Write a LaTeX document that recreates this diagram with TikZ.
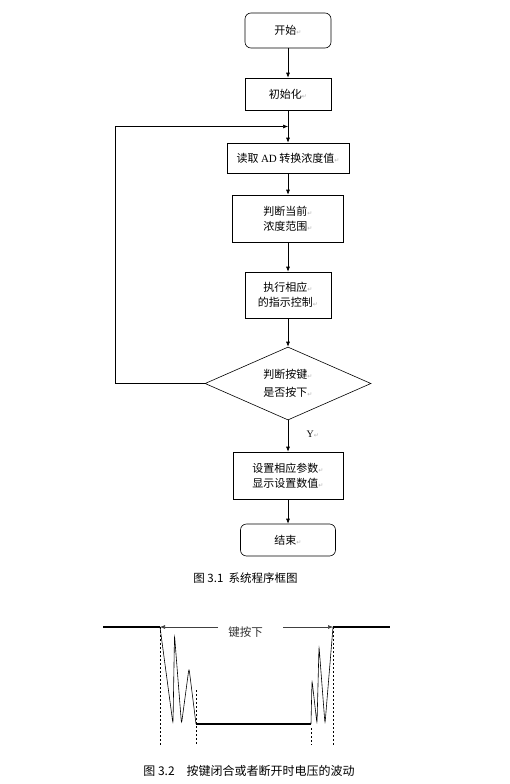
\documentclass[tikz,border=0pt]{standalone}
\usepackage{fontspec}
\setmainfont{Liberation Serif}
\newfontfamily\cjk{Noto Sans CJK SC}
\newfontfamily\markfont{DejaVu Sans}
\usetikzlibrary{arrows.meta,shapes.geometric,calc}
\newcommand{\ret}{{\markfont\fontsize{6}{6}\selectfont\textcolor{gray!60}{↵}}}

\begin{document}
\begin{tikzpicture}[x=1pt,y=-1pt,
  proc/.style={draw,line width=0.6pt,align=center,inner sep=0pt,
    font=\cjk\fontsize{11}{15}\selectfont},
  term/.style={proc,rounded corners=6pt},
  decide/.style={proc,diamond,shape aspect=2.27},
  flow/.style={-{Latex[length=5pt,width=4pt]},line width=0.6pt},
  level/.style={line width=2.4pt},
  bounce/.style={line width=0.6pt,rounded corners=3.5pt},
  guide/.style={line width=0.8pt,dash pattern=on 2pt off 2pt}]
\useasboundingbox[fill=white] (0,0) rectangle (510,784);

% flow chart
\node[term,minimum width=86pt,minimum height=35pt] (start) at (288,30.5) {开始\ret};
\node[proc,minimum width=86pt,minimum height=32pt] (init) at (288,94) {初始化\ret};
\node[proc,minimum width=122pt,minimum height=30pt] (read) at (288,158) {读取 {\rmfamily AD} 转换浓度值\ret};
\node[proc,minimum width=111pt,minimum height=47pt] (range) at (288,218.5) {判断当前\ret\\浓度范围\ret};
\node[proc,minimum width=86pt,minimum height=46pt] (show) at (288,295) {执行相应\ret\\的指示控制\ret};
\node[decide,minimum width=166pt,minimum height=73pt] (key) at (288,383.5) {判断按键\ret\\[3pt]是否按下\ret};
\node[proc,minimum width=110pt,minimum height=47pt] (set) at (288,475.5) {设置相应参数\ret\\显示设置数值\ret};
\node[term,minimum width=95pt,minimum height=32pt] (stop) at (288,540) {结束\ret};
\coordinate (join) at ($(init.south)!0.5!(read.north)$);

\draw[flow] (start) -- (init);
\draw[flow] (init) -- (read);
\draw[flow] (read) -- (range);
\draw[flow] (range) -- (show);
\draw[flow] (show) -- (key);
\draw[flow] (key) -- node[right=15pt,pos=0.45,font=\fontsize{10}{10}\selectfont] (yes) {Y\ret} (set);
\draw[flow] (set) -- (stop);
\draw[flow] (key.west) -- (115,383.5) |- (join);

\node[font=\cjk\fontsize{11.5}{12}\selectfont] (cap1) at (245.5,578) {图 3.1\ \ 系统程序框图};

% key bounce
\coordinate (down) at (160,627);
\coordinate (up) at (333,627);
\node[font=\cjk\fontsize{11.5}{12}\selectfont,text=black!80] (press) at (245.5,632) {键按下};
\draw[flow,draw=black!75] (218,627) -- (down);
\draw[flow,draw=black!75] (283,627) -- (up);

\draw[level] (103,627) -- (down);
\draw[level] (up) -- (390,627);
\draw[level] (196,724) -- (311,724);

\draw[bounce] (down) -- (173,724) -- (174.5,635) -- (181.5,724) -- (189,668) -- (196,724);
\draw[bounce] (311,724) -- (312,680) -- (317,724) -- (319,646) -- (325,724) -- (up);

\draw[guide] (down) -- (160,745);
\draw[guide] (196,690) -- (196,745);
\draw[guide] (311,728) -- (311,745);
\draw[guide] (up) -- (333,745);

\node[font=\cjk\fontsize{12}{12}\selectfont] (cap2) at (249,771) {图 3.2\quad 按键闭合或者断开时电压的波动};
\end{tikzpicture}
\end{document}
